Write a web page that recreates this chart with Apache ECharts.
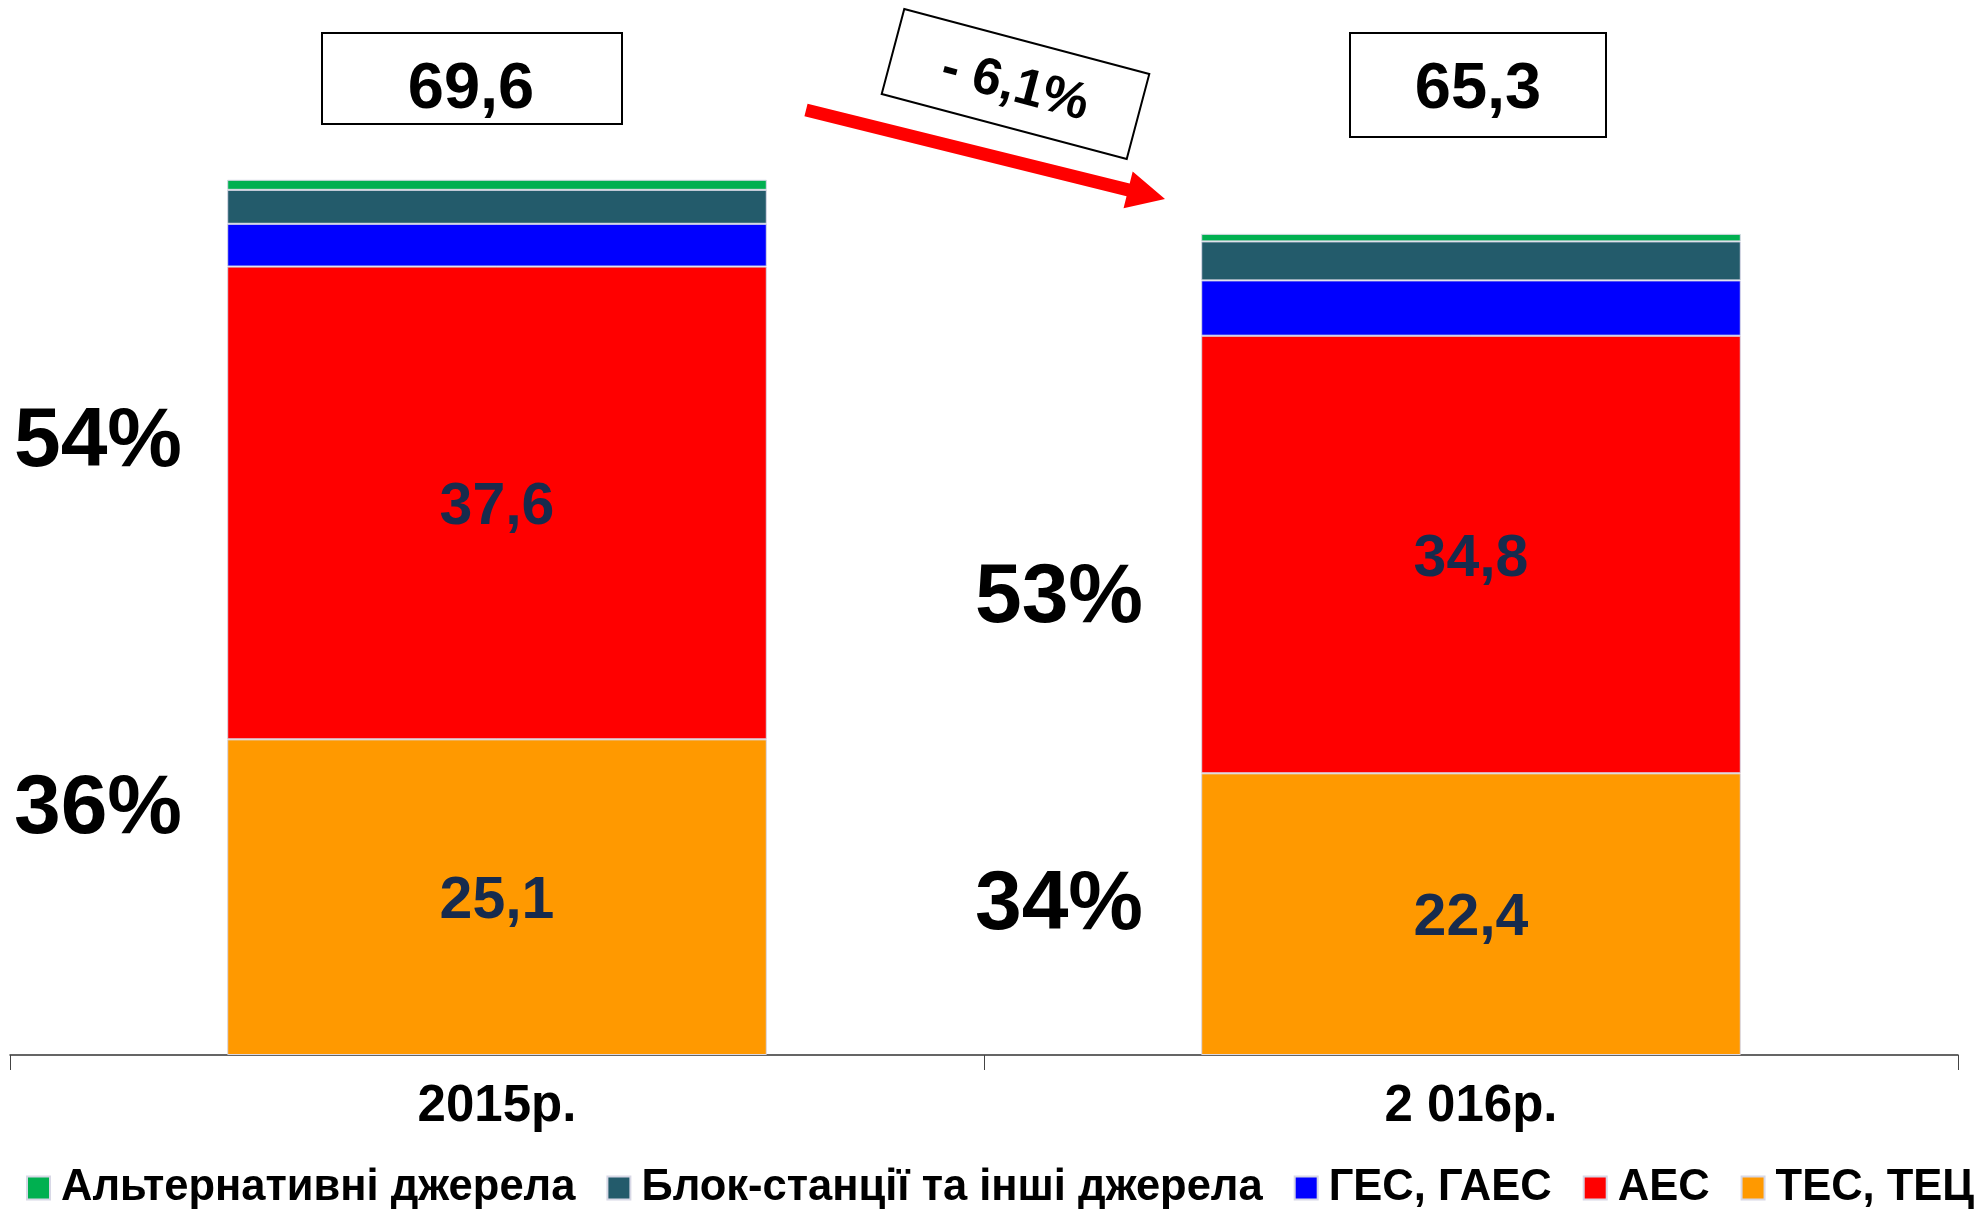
<!DOCTYPE html>
<html>
<head>
<meta charset="utf-8">
<script src="https://cdn.jsdelivr.net/npm/echarts@6/dist/echarts.min.js"></script>
<style>
html,body{margin:0;padding:0;background:#fff;}
#chart{width:1987px;height:1209px;}
</style>
</head>
<body>
<div id="chart"></div>
<script>
// ---- data ----
var categories = ['2015р.', '2 016р.'];
var tes  = [25.1, 22.4];   // ТЕС, ТЕЦ
var aes  = [37.6, 34.8];   // АЕС
var ges  = [3.4, 4.4];     // ГЕС, ГАЕС
var blok = [2.7, 3.1];     // Блок-станції та інші джерела
var alt  = [0.8, 0.6];     // Альтернативні джерела
var totals = [69.6, 65.3];
var changeLabel = '- 6,1%';
var seriesNames = ['ТЕС, ТЕЦ', 'АЕС', 'ГЕС, ГАЕС', 'Блок-станції та інші джерела', 'Альтернативні джерела'];
var seriesColors = ['#FF9900', '#FF0000', '#0000FF', '#235B6B', '#00B050'];

var FONT = '"Liberation Sans", Arial, sans-serif';
function fmt(v){ return v.toFixed(1).replace('.', ','); }
function pct(part, i){ return Math.round(part[i] / totals[i] * 100) + '%'; }

var chart = echarts.init(document.getElementById('chart'));

var valueArrays = [tes, aes, ges, blok, alt];
var series = valueArrays.map(function(arr, k){
  return {
    name: seriesNames[k],
    type: 'bar',
    stack: 'total',
    barWidth: '55.4%',
    data: arr,
    itemStyle: { color: seriesColors[k], borderColor: '#D8D8E6', borderWidth: 1 },
    label: {
      show: k < 2,
      position: 'inside',
      offset: [0, 5],
      formatter: function(p){ return fmt(p.value); },
      color: '#172B4D',
      fontFamily: FONT,
      fontWeight: 'bold',
      fontSize: 59
    },
    emphasis: { disabled: true },
    animation: false
  };
});

// arrow geometry (decoration)
function arrowPoints(x0, y0, x1, y1, shaftW, headW, headL){
  var dx = x1 - x0, dy = y1 - y0, len = Math.sqrt(dx*dx + dy*dy);
  var ux = dx/len, uy = dy/len, nx = -uy, ny = ux;
  var bx = x1 - ux*headL, by = y1 - uy*headL;
  return [
    [x0 + nx*shaftW/2, y0 + ny*shaftW/2],
    [bx + nx*shaftW/2, by + ny*shaftW/2],
    [bx + nx*headW/2, by + ny*headW/2],
    [x1, y1],
    [bx - nx*headW/2, by - ny*headW/2],
    [bx - nx*shaftW/2, by - ny*shaftW/2],
    [x0 - nx*shaftW/2, y0 - ny*shaftW/2]
  ];
}

var pctStyle = { fontFamily: FONT, fontWeight: 'bold', fontSize: 84, fill: '#000', align: 'center', verticalAlign: 'middle' };

var option = {
  backgroundColor: '#fff',
  animation: false,
  grid: { left: 10, right: 29, top: 49, bottom: 154, containLabel: false },
  legend: {
    data: seriesNames.slice().reverse(),
    left: 21,
    top: 1161,
    icon: 'rect',
    itemWidth: 23,
    itemHeight: 23,
    itemGap: 31,
    textStyle: { fontFamily: FONT, fontWeight: 'bold', fontSize: 43.5, color: '#000', padding: [0,0,0,6] },
    selectedMode: false
  },
  xAxis: {
    type: 'category',
    data: categories,
    axisLine: { show: true, lineStyle: { color: '#333', width: 1.5 } },
    axisTick: { show: true, length: 15, lineStyle: { color: '#444', width: 1 } },
    axisLabel: { fontFamily: FONT, fontWeight: 'bold', fontSize: 51, color: '#000', margin: 26 }
  },
  yAxis: { type: 'value', min: 0, max: 80, show: false, splitLine: { show: false } },
  series: series,
  graphic: [
    { type: 'rect', shape: { x: 322, y: 33, width: 300, height: 91 }, style: { fill: '#fff', stroke: '#000', lineWidth: 2 } },
    { type: 'text', x: 471, y: 90, style: { text: fmt(totals[0]), fontFamily: FONT, fontWeight: 'bold', fontSize: 65, fill: '#000', align: 'center', verticalAlign: 'middle' } },
    { type: 'rect', shape: { x: 1350, y: 33, width: 256, height: 104 }, style: { fill: '#fff', stroke: '#000', lineWidth: 2 } },
    { type: 'text', x: 1478, y: 90, style: { text: fmt(totals[1]), fontFamily: FONT, fontWeight: 'bold', fontSize: 65, fill: '#000', align: 'center', verticalAlign: 'middle' } },
    { type: 'polygon', shape: { points: arrowPoints(806, 110, 1165, 199, 13, 38, 38) }, style: { fill: '#FF0000' } },
    { type: 'group', x: 1015.5, y: 84, rotation: -14.86 * Math.PI / 180, children: [
      { type: 'rect', shape: { x: -126.75, y: -44, width: 253.5, height: 88 }, style: { fill: '#fff', stroke: '#000', lineWidth: 2 } },
      { type: 'text', x: 0, y: 3, style: { text: changeLabel, fontFamily: FONT, fontWeight: 'bold', fontSize: 52, fill: '#000', align: 'center', verticalAlign: 'middle' } }
    ]},
    { type: 'text', x: 98, y: 443, style: Object.assign({ text: pct(aes, 0) }, pctStyle) },
    { type: 'text', x: 98, y: 810, style: Object.assign({ text: pct(tes, 0) }, pctStyle) },
    { type: 'text', x: 1059, y: 599, style: Object.assign({ text: pct(aes, 1) }, pctStyle) },
    { type: 'text', x: 1059, y: 906, style: Object.assign({ text: pct(tes, 1) }, pctStyle) }
  ]
};
chart.setOption(option);
</script>
</body>
</html>
